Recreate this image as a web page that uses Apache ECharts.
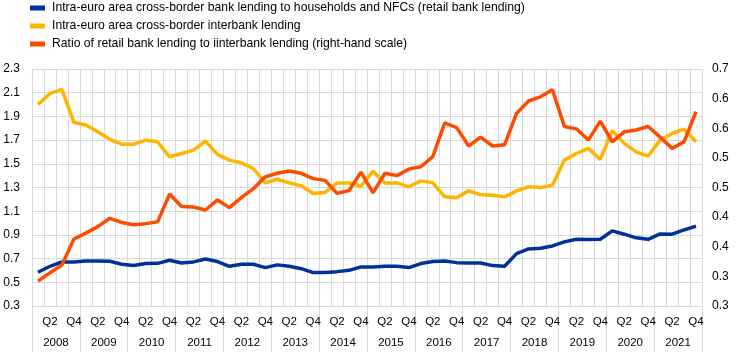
<!DOCTYPE html>
<html>
<head>
<meta charset="utf-8">
<script src="https://cdn.jsdelivr.net/npm/echarts@6/dist/echarts.min.js"></script>
<style>
html,body{margin:0;padding:0;background:#fff;}
#chart{width:744px;height:355px;}
</style>
</head>
<body>
<div id="chart"></div>
<script>
var years = ['2008','2009','2010','2011','2012','2013','2014','2015','2016','2017','2018','2019','2020','2021'];
var quarterNames = ['Q1','Q2','Q3','Q4'];
var quarterTickLabels = ['', 'Q2', '', 'Q4'];
var leftTickLabels = ['0.3','0.5','0.7','0.9','1.1','1.3','1.5','1.7','1.9','2.1','2.3'];
var rightTickLabels = ['0.3','0.3','0.4','0.4','0.5','0.5','0.6','0.6','0.7'];

var seriesNames = [
  'Intra-euro area cross-border bank lending to households and NFCs (retail bank lending)',
  'Intra-euro area cross-border interbank lending',
  'Ratio of retail bank lending to iinterbank lending (right-hand scale)'
];

var retail = [
  0.585,0.635,0.672,0.672, 0.680,0.680,0.678,0.652, 0.641,0.658,0.660,0.686,
  0.663,0.672,0.697,0.675, 0.635,0.652,0.652,0.624, 0.647,0.635,0.615,0.582,
  0.582,0.590,0.601,0.630, 0.630,0.635,0.635,0.624, 0.658,0.675,0.680,0.666,
  0.663,0.663,0.641,0.635, 0.742,0.782,0.788,0.807, 0.841,0.863,0.861,0.863,
  0.934,0.906,0.875,0.863, 0.908,0.906,0.942,0.973
];
var interbank = [
  2.000,2.094,2.128,1.849, 1.827,1.770,1.706,1.666, 1.666,1.700,1.686,1.559,
  1.587,1.615,1.692,1.579, 1.531,1.508,1.460,1.339, 1.370,1.339,1.314,1.249,
  1.258,1.339,1.339,1.311, 1.438,1.339,1.339,1.306, 1.356,1.339,1.221,1.213,
  1.272,1.238,1.235,1.221, 1.272,1.306,1.299,1.320, 1.531,1.587,1.630,1.537,
  1.779,1.672,1.601,1.565, 1.700,1.756,1.793,1.686
];
var ratio = [
  0.292,0.306,0.319,0.363, 0.373,0.384,0.398,0.391, 0.387,0.389,0.392,0.439,
  0.418,0.417,0.412,0.429, 0.416,0.433,0.448,0.468, 0.474,0.478,0.474,0.465,
  0.462,0.440,0.445,0.476, 0.441,0.474,0.470,0.481, 0.485,0.502,0.559,0.551,
  0.520,0.535,0.520,0.522, 0.575,0.596,0.603,0.615, 0.553,0.549,0.530,0.562,
  0.527,0.544,0.547,0.553, 0.535,0.516,0.527,0.578
];

var categories = [];
years.forEach(function (y) { quarterNames.forEach(function (q) { categories.push(y + ' ' + q); }); });

var FONT = 'Arial, "Liberation Sans", sans-serif';
var GRID = '#d9d9d9';

var chart = echarts.init(document.getElementById('chart'), null, {renderer: 'canvas'});
chart.setOption({
  animation: false,
  color: ['#003299', '#FFB400', '#FF4B00'],
  textStyle: {fontFamily: FONT},
  legend: {
    orient: 'vertical',
    left: 30,
    top: 1,
    padding: 0,
    icon: 'rect',
    itemWidth: 15,
    itemHeight: 5,
    itemGap: 4,
    textStyle: {fontFamily: FONT, fontSize: 12.2, color: '#000', lineHeight: 14, padding: [0, 0, 0, 2]},
    data: seriesNames
  },
  grid: {left: 32, right: 42, top: 69, bottom: 49, containLabel: false},
  xAxis: [
    {
      type: 'category',
      data: categories,
      boundaryGap: true,
      position: 'bottom',
      axisLine: {show: false},
      axisTick: {show: false},
      splitLine: {show: true, interval: 0, lineStyle: {color: GRID, width: 1}},
      axisLabel: {
        interval: 0, margin: 10, fontSize: 11.5, color: '#000', fontFamily: FONT,
        formatter: function (v, i) { return quarterTickLabels[i % 4]; }
      }
    },
    {
      type: 'category',
      data: years,
      boundaryGap: true,
      position: 'bottom',
      axisLine: {show: false},
      axisTick: {show: true, interval: 0, length: 46, lineStyle: {color: GRID, width: 1}},
      splitLine: {show: false},
      axisLabel: {interval: 0, margin: 31, fontSize: 11.5, color: '#000', fontFamily: FONT}
    }
  ],
  yAxis: [
    {
      type: 'value',
      min: 0.3, max: 2.3, interval: 0.2,
      position: 'left',
      axisLine: {show: false},
      axisTick: {show: false},
      splitLine: {show: true, lineStyle: {color: GRID, width: 1}},
      axisLabel: {
        margin: 12, fontSize: 12, color: '#000', fontFamily: FONT,
        formatter: function (v) { return leftTickLabels[Math.round((v - 0.3) / 0.2)]; }
      }
    },
    {
      type: 'value',
      min: 0.25, max: 0.65, interval: 0.05,
      position: 'right',
      axisLine: {show: false},
      axisTick: {show: false},
      splitLine: {show: false},
      axisLabel: {
        margin: 10, fontSize: 12, color: '#000', fontFamily: FONT,
        formatter: function (v) { return rightTickLabels[Math.round((v - 0.25) / 0.05)]; }
      }
    }
  ],
  series: [
    {name: seriesNames[0], type: 'line', xAxisIndex: 0, yAxisIndex: 0, data: retail,
     showSymbol: false, symbol: 'none', lineStyle: {width: 3.5}},
    {name: seriesNames[1], type: 'line', xAxisIndex: 0, yAxisIndex: 0, data: interbank,
     showSymbol: false, symbol: 'none', lineStyle: {width: 3.5}},
    {name: seriesNames[2], type: 'line', xAxisIndex: 0, yAxisIndex: 1, data: ratio,
     showSymbol: false, symbol: 'none', lineStyle: {width: 3.5}}
  ]
});
</script>
</body>
</html>
